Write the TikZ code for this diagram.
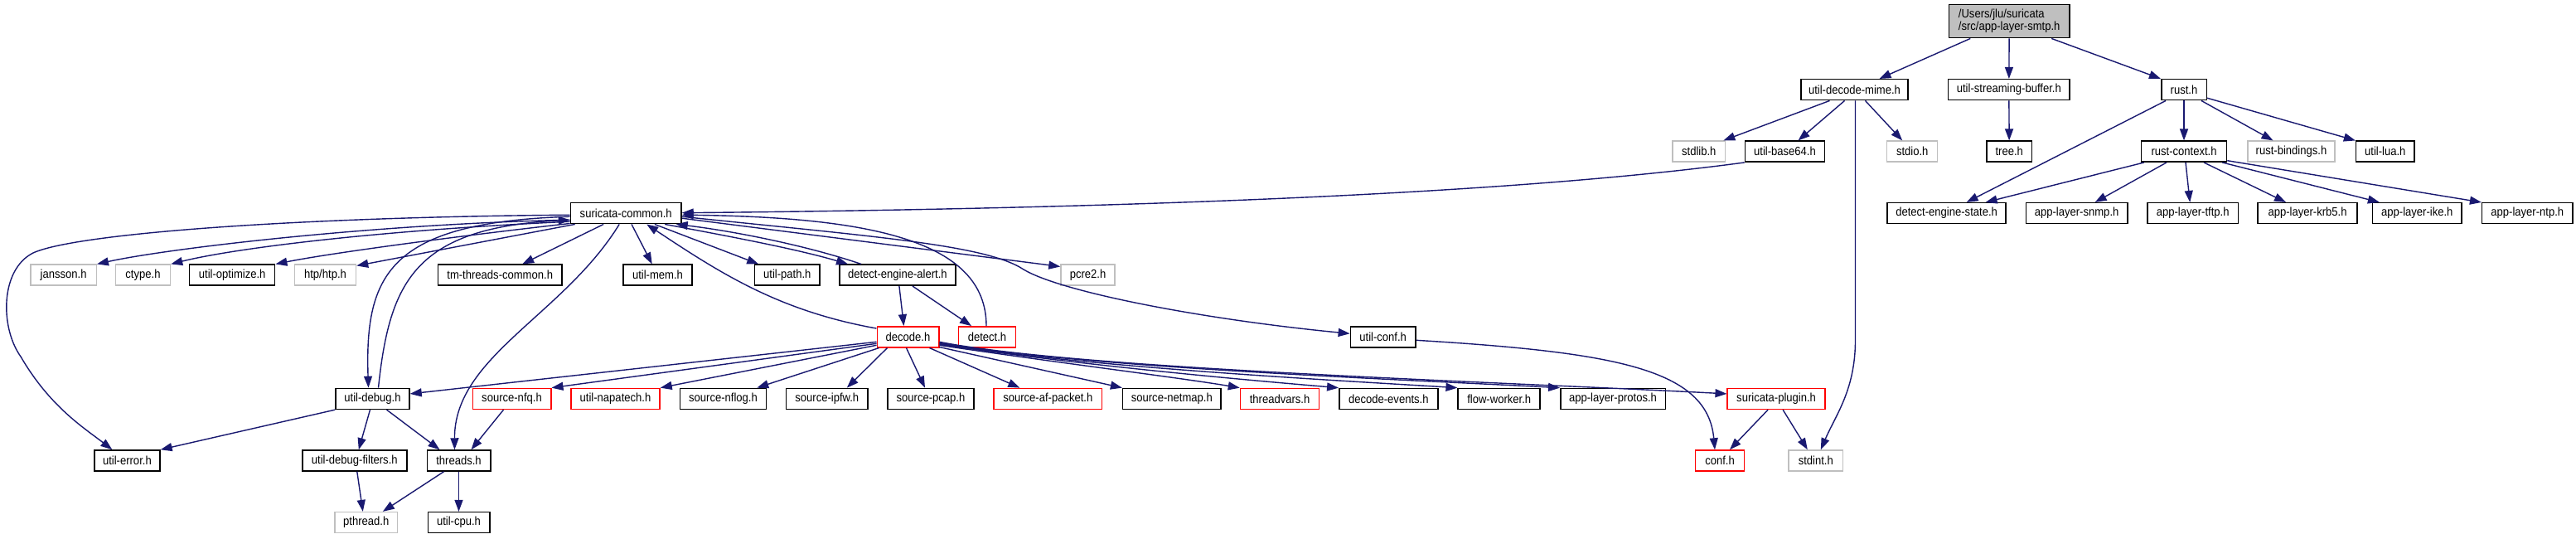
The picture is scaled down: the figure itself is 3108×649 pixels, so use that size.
\documentclass[tikz,border=0pt]{standalone}
\usepackage{fontspec}
\setmainfont{Liberation Sans}[FakeStretch=0.9]
\usetikzlibrary{arrows.meta,calc}
\definecolor{edgec}{HTML}{191970}
\definecolor{grayb}{HTML}{BFBFBF}
\definecolor{redb}{HTML}{FF0000}
\tikzset{
  nd/.style={draw=black, line width=1.5pt, minimum height=25pt, inner sep=0pt,
    font=\fontsize{14.5}{15}\selectfont, text=black},
  gn/.style={nd, draw=grayb},
  rn/.style={nd, draw=redb},
  e/.style={draw=edgec, line width=1.4pt, -{Triangle[length=14pt,width=10pt]}},
}
\begin{document}
\begin{tikzpicture}[x=1pt,y=-1pt]
\fill[white] (0,0) rectangle (3108,649);
\useasboundingbox (0,0) rectangle (3108,649);
% row 0
\node[nd, fill=grayb, minimum width=145.5pt, minimum height=40pt, align=left] (smtp) at (2424.2,25.7) {/Users/jlu/suricata\\/src/app-layer-smtp.h};
% row 1
\node[nd, minimum width=129pt] (udm) at (2237.5,108.2) {util-decode-mime.h};
\node[nd, minimum width=146.5pt] (usb) at (2423.8,108.2) {util-streaming-buffer.h};
\node[nd, minimum width=54.5pt] (rust) at (2635,108.2) {rust.h};
% row 2
\node[gn, minimum width=63.6pt] (stdlib) at (2049.8,182.7) {stdlib.h};
\node[nd, minimum width=96pt] (ub64) at (2153.5,182.7) {util-base64.h};
\node[gn, minimum width=61pt] (stdio) at (2307.2,182.7) {stdio.h};
\node[nd, minimum width=54.5pt] (tree) at (2424.2,182.7) {tree.h};
\node[nd, minimum width=103pt] (rctx) at (2635,182.7) {rust-context.h};
\node[gn, minimum width=105pt] (rbind) at (2764.5,182.7) {rust-bindings.h};
\node[nd, minimum width=70.4pt] (ulua) at (2877.8,182.7) {util-lua.h};
% row 3
\node[nd, minimum width=133.5pt] (sc) at (755.2,257.2) {suricata-common.h};
\node[nd, minimum width=143pt] (des) at (2348.6,257.2) {detect-engine-state.h};
\node[nd, minimum width=122.7pt] (snmp) at (2505.6,257.2) {app-layer-snmp.h};
\node[nd, minimum width=109.4pt] (tftp) at (2645.7,257.2) {app-layer-tftp.h};
\node[nd, minimum width=120pt] (krb5) at (2784,257.2) {app-layer-krb5.h};
\node[nd, minimum width=107.3pt] (ike) at (2916.3,257.2) {app-layer-ike.h};
\node[nd, minimum width=109.3pt] (ntp) at (3049.3,257.2) {app-layer-ntp.h};
% row 4
\node[gn, minimum width=79.3pt] (jansson) at (76.6,331.7) {jansson.h};
\node[gn, minimum width=66pt] (ctype) at (172.5,331.7) {ctype.h};
\node[nd, minimum width=103pt] (uopt) at (280.2,331.7) {util-optimize.h};
\node[gn, minimum width=74pt] (htp) at (392.5,331.7) {htp/htp.h};
\node[nd, minimum width=149.3pt] (tmtc) at (603.2,331.7) {tm-threads-common.h};
\node[nd, minimum width=83pt] (umem) at (793.5,331.7) {util-mem.h};
\node[nd, minimum width=78.5pt] (upath) at (949.8,331.7) {util-path.h};
\node[nd, minimum width=140.2pt] (dea) at (1082.9,331.7) {detect-engine-alert.h};
\node[gn, minimum width=65pt] (pcre2) at (1312.5,331.7) {pcre2.h};
% row 5
\node[rn, minimum width=74.5pt] (decode) at (1095.5,406.3) {decode.h};
\node[rn, minimum width=69pt] (detect) at (1191,406.3) {detect.h};
\node[nd, minimum width=78.7pt] (uconf) at (1668.7,406.3) {util-conf.h};
% row 6
\node[nd, minimum width=89pt] (udebug) at (449.5,480.9) {util-debug.h};
\node[rn, minimum width=94.5pt] (nfq) at (617.5,480.9) {source-nfq.h};
\node[rn, minimum width=107pt] (napa) at (742.5,480.9) {util-napatech.h};
\node[nd, minimum width=104pt] (nflog) at (872.5,480.9) {source-nflog.h};
\node[nd, minimum width=98.5pt] (ipfw) at (997.8,480.9) {source-ipfw.h};
\node[nd, minimum width=104pt] (pcap) at (1123,480.9) {source-pcap.h};
\node[rn, minimum width=130.6pt] (afp) at (1264.3,480.9) {source-af-packet.h};
\node[nd, minimum width=118.4pt] (netmap) at (1413.8,480.9) {source-netmap.h};
\node[rn, minimum width=95.2pt] (tvars) at (1544.1,480.9) {threadvars.h};
\node[nd, minimum width=119pt] (devents) at (1675.3,480.9) {decode-events.h};
\node[nd, minimum width=99pt] (fworker) at (1808.7,480.9) {flow-worker.h};
\node[nd, minimum width=126.5pt] (alprotos) at (1946,480.9) {app-layer-protos.h};
\node[rn, minimum width=117.8pt] (splugin) at (2143.1,480.9) {suricata-plugin.h};
% row 7
\node[nd, minimum width=79pt] (uerror) at (153.4,555.5) {util-error.h};
\node[nd, minimum width=126pt] (udf) at (427.8,555.5) {util-debug-filters.h};
\node[nd, minimum width=76.5pt] (threads) at (553.5,555.5) {threads.h};
\node[rn, minimum width=59.2pt] (conf) at (2075,555.5) {conf.h};
\node[gn, minimum width=65.3pt] (stdint) at (2190.8,555.5) {stdint.h};
% row 8
\node[gn, minimum width=75.6pt] (pthread) at (441.8,630.1) {pthread.h};
\node[nd, minimum width=74.5pt] (ucpu) at (553.5,630.1) {util-cpu.h};

% ---- edges: top right
\draw[e] (smtp) -- (udm);
\draw[e] (smtp) -- (usb);
\draw[e] ($(smtp.south)+(51,0)$) -- (rust.north west);
\draw[e] ($(udm.south)+(-30,0)$) -- ($(stdlib.north east)+(-3,0)$);
\draw[e] ($(udm.south)+(-12,0)$) -- ($(ub64.north)+(16,0)$);
\draw[e] ($(udm.south)+(13,0)$) -- ($(stdio.north)+(-12,0)$);
\draw[e] ($(udm.south)+(1,0)$) -- (2238.5,410) .. controls (2238.5,470) and (2215,500) .. ($(stdint.north)+(6,0)$);
\draw[e] (usb) -- (tree);
\draw[e] ($(rust.south)+(-22,0)$) -- ($(des.north)+(24,0)$);
\draw[e] (rust) -- (rctx);
\draw[e] ($(rust.south east)+(-7,0)$) -- ($(rbind.north)+(-22,0)$);
\draw[e] ($(rust.east)+(0,10)$) -- (ulua.north west);
\draw[e] ($(rctx.south west)+(4,0)$) -- ($(des.north)+(47,0)$);
\draw[e] ($(rctx.south)+(-21,0)$) -- ($(snmp.north)+(22,0)$);
\draw[e] ($(rctx.south)+(2,0)$) -- ($(tftp.north)+(-3.5,0)$);
\draw[e] ($(rctx.south)+(24,0)$) -- ($(krb5.north)+(-26,0)$);
\draw[e] ($(rctx.south east)+(-6,0)$) -- ($(ike.north west)+(9,0)$);
\draw[e] ($(rctx.east)+(0,11)$) -- (ntp.north west);
% util-base64 -> suricata-common
\draw[e] (ub64.south west) .. controls (1800,237) and (1300,252) .. ($(sc.east)+(0,-0.5)$);

% ---- edges from suricata-common
\draw[e] ($(sc.west)+(0,2)$) .. controls (350,262) and (90,282) .. (40,305)
   .. controls (0,325) and (0,395) .. (25,430)
   .. controls (60,490) and (100,515) .. ($(uerror.north)+(-18,0)$);
\draw[e] ($(sc.west)+(0,8)$) .. controls (450,270) and (200,300) .. (jansson.north east);
\draw[e] ($(sc.west)+(0,10)$) .. controls (450,278) and (280,300) .. (ctype.north east);
\draw[e] ($(sc.south west)+(0,-1)$) .. controls (550,285) and (400,305) .. (uopt.north east);
\draw[e] ($(sc.south west)+(6,0)$) -- ($(htp.north east)+(0,2)$);
\draw[e] (sc) -- (tmtc);
\draw[e] (sc) -- (umem);
\draw[e] (sc) -- (upath);
\draw[e] ($(sc.south)+(47,0)$) .. controls (880,285) and (960,300) .. ($(dea.north west)+(11,0)$);
\draw[e] ($(dea.north west)+(27,0)$) .. controls (970,295) and (880,278) .. ($(sc.south east)+(-7,0)$);
\draw[e] ($(sc.east)+(0,6)$) -- ($(pcre2.north west)+(0,3)$);
\draw[e] ($(sc.east)+(0,4)$) .. controls (1050,285) and (1190,295) .. (1235,325)
   .. controls (1280,352) and (1450,385) .. ($(uconf.west)+(0,-4)$);
\draw[e] ($(sc.west)+(0,4)$) .. controls (470,268) and (440,330) .. ($(udebug.north)+(-5,0)$);
\draw[e] ($(udebug.north)+(7,0)$) .. controls (470,340) and (500,275) .. ($(sc.west)+(0,8)$);
\draw[e] ($(sc.south)+(-8,0)$) .. controls (680,380) and (548,430) .. ($(threads.north)+(-5,0)$);
\draw[e] ($(decode.north west)+(0,3)$) .. controls (940,375) and (870,330) .. ($(sc.south)+(25,0)$);
\draw[e] ($(dea.south)+(2,0)$) -- ($(decode.north)+(-5,0)$);
\draw[e] ($(dea.south)+(18,0)$) -- ($(detect.north)+(-19,0)$);
\draw[e] ($(detect.north)+(-1,0)$) .. controls (1190,290) and (1050,262) .. ($(sc.east)+(0,2)$);

% ---- decode fan
\draw[e] ($(decode.west)+(0,6)$) -- ($(udebug.east)+(0,-6)$);
\draw[e] ($(decode.west)+(0,8)$) -- (nfq.north east);
\draw[e] ($(decode.west)+(0,10)$) -- (napa.north east);
\draw[e] ($(decode.south west)+(3,0)$) -- ($(nflog.north east)+(-12,0)$);
\draw[e] ($(decode.south)+(-25,0)$) -- ($(ipfw.north east)+(-26,0)$);
\draw[e] ($(decode.south)+(-2,0)$) -- ($(pcap.north)+(-7,0)$);
\draw[e] ($(decode.south)+(26,0)$) -- ($(afp.north)+(-34,0)$);
\draw[e] ($(decode.south east)+(0,-1)$) -- (netmap.north west);
\draw[e] ($(decode.east)+(0,10)$) .. controls (1280,438) and (1420,455) .. (tvars.north west);
\draw[e] ($(decode.east)+(0,9)$) .. controls (1300,440) and (1500,458) .. (devents.north west);
\draw[e] ($(decode.east)+(0,8)$) .. controls (1300,442) and (1600,458) .. (fworker.north west);
\draw[e] ($(decode.east)+(0,7)$) .. controls (1300,443) and (1700,458) .. (alprotos.north west);
\draw[e] ($(decode.east)+(0,6)$) .. controls (1300,445) and (1800,460) .. ($(splugin.west)+(0,-6)$);

% ---- lower right
\draw[e] ($(uconf.east)+(0,4)$) .. controls (1950,425) and (2060,445) .. ($(conf.north)+(-6,0)$);
\draw[e] ($(splugin.south)+(-10,0)$) -- ($(conf.north)+(12,0)$);
\draw[e] ($(splugin.south)+(8,0)$) -- ($(stdint.north)+(-10,0)$);

% ---- lower left
\draw[e] (udebug.south west) -- (uerror.north east);
\draw[e] ($(udebug.south)+(-3,0)$) -- ($(udf.north)+(5,0)$);
\draw[e] ($(udebug.south)+(17,0)$) -- ($(threads.north)+(-23,0)$);
\draw[e] ($(nfq.south)+(-10,0)$) -- ($(threads.north)+(15,0)$);
\draw[e] ($(udf.south)+(3,0)$) -- ($(pthread.north)+(-4,0)$);
\draw[e] ($(threads.south)+(-18,0)$) -- ($(pthread.north)+(20,0)$);
\draw[e] (threads) -- (ucpu);
\end{tikzpicture}
\end{document}
